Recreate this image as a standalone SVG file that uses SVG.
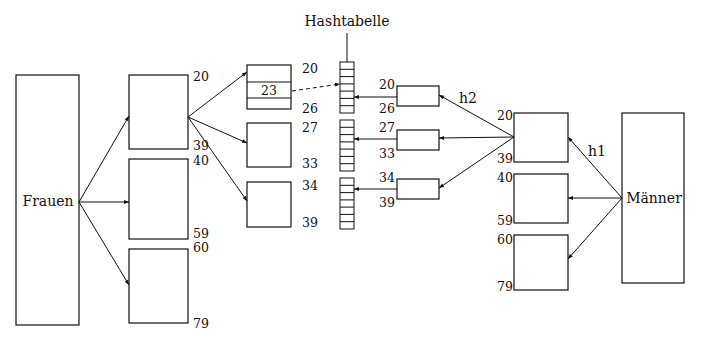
<svg xmlns="http://www.w3.org/2000/svg" width="706" height="346" viewBox="0 0 706 346">
<style>
  .box { fill: #fff; stroke: #111; stroke-width: 1.2; }
  .cell { fill: none; stroke: #111; stroke-width: 1; }
  .edge { fill: none; stroke: #111; stroke-width: 1; marker-end: url(#arr); }
  .lbl { font-family: "DejaVu Serif", "Liberation Serif", serif; font-size: 12.5px; fill: #111; }
  .big { font-family: "DejaVu Serif", "Liberation Serif", serif; font-size: 14px; fill: #111; }
</style>
<defs>
  <marker id="arr" viewBox="0 0 10 10" refX="10" refY="5" markerWidth="7" markerHeight="5" markerUnits="userSpaceOnUse" orient="auto">
    <path d="M0,1 L10,5 L0,9 z" fill="#111"/>
  </marker>
  <!-- one hash bucket column of seven cells -->
  <g id="bucket">
    <rect class="cell" x="0" y="0" width="14" height="51"/>
    <path class="cell" d="M0,7.3H14M0,14.6H14M0,21.9H14M0,29.1H14M0,36.4H14M0,43.7H14"/>
  </g>
</defs>

<!-- women -->
<g id="frauen">
  <rect class="box" x="16" y="75" width="63" height="250"/>
  <text class="big" x="48" y="206" text-anchor="middle">Frauen</text>
</g>
<g id="f20">
  <rect class="box" x="129" y="75" width="59" height="74"/>
  <text class="lbl" x="193" y="81">20</text>
  <text class="lbl" x="193" y="150">39</text>
</g>
<g id="f40">
  <rect class="box" x="129" y="159" width="59" height="80"/>
  <text class="lbl" x="193" y="165">40</text>
  <text class="lbl" x="193" y="238">59</text>
</g>
<g id="f60">
  <rect class="box" x="129" y="249" width="59" height="74"/>
  <text class="lbl" x="193" y="252">60</text>
  <text class="lbl" x="193" y="328">79</text>
</g>

<!-- partitions of 20..39 -->
<g id="p20">
  <rect class="box" x="247" y="65" width="44" height="44"/>
  <path class="cell" d="M247,82H291M247,98H291"/>
  <text class="lbl" x="269" y="95" text-anchor="middle">23</text>
  <text class="lbl" x="302" y="73">20</text>
  <text class="lbl" x="302" y="113">26</text>
</g>
<g id="p27">
  <rect class="box" x="247" y="123" width="44" height="44"/>
  <text class="lbl" x="302" y="132">27</text>
  <text class="lbl" x="302" y="168">33</text>
</g>
<g id="p34">
  <rect class="box" x="247" y="182" width="44" height="45"/>
  <text class="lbl" x="302" y="190">34</text>
  <text class="lbl" x="302" y="227">39</text>
</g>

<!-- hash table -->
<g id="hashtabelle">
  <text class="big" x="347" y="26" text-anchor="middle">Hashtabelle</text>
  <line class="cell" x1="347" y1="33" x2="347" y2="62"/>
  <use href="#bucket" x="340" y="62"/>
  <use href="#bucket" x="340" y="120"/>
  <use href="#bucket" x="340" y="178"/>
</g>

<!-- build-side partitions -->
<g id="h20">
  <rect class="box" x="397" y="86" width="42" height="20"/>
  <text class="lbl" x="387" y="89" text-anchor="middle">20</text>
  <text class="lbl" x="387" y="113" text-anchor="middle">26</text>
</g>
<g id="h27">
  <rect class="box" x="397" y="130" width="42" height="20"/>
  <text class="lbl" x="387" y="132" text-anchor="middle">27</text>
  <text class="lbl" x="387" y="158" text-anchor="middle">33</text>
</g>
<g id="h34">
  <rect class="box" x="397" y="179" width="42" height="20"/>
  <text class="lbl" x="387" y="182" text-anchor="middle">34</text>
  <text class="lbl" x="387" y="207" text-anchor="middle">39</text>
</g>

<!-- men -->
<g id="m20">
  <rect class="box" x="514" y="113" width="54" height="49"/>
  <text class="lbl" x="505" y="120" text-anchor="middle">20</text>
  <text class="lbl" x="505" y="163" text-anchor="middle">39</text>
</g>
<g id="m40">
  <rect class="box" x="514" y="174" width="54" height="49"/>
  <text class="lbl" x="505" y="182" text-anchor="middle">40</text>
  <text class="lbl" x="505" y="225" text-anchor="middle">59</text>
</g>
<g id="m60">
  <rect class="box" x="514" y="235" width="54" height="55"/>
  <text class="lbl" x="505" y="244" text-anchor="middle">60</text>
  <text class="lbl" x="505" y="291" text-anchor="middle">79</text>
</g>
<g id="maenner">
  <rect class="box" x="622" y="113" width="62" height="170"/>
  <text class="big" x="654" y="203" text-anchor="middle">Männer</text>
</g>

<!-- connectors -->
<g id="connectors">
  <line class="edge" x1="79" y1="202" x2="129" y2="116"/>
  <line class="edge" x1="79" y1="202" x2="129" y2="202"/>
  <line class="edge" x1="79" y1="202" x2="129" y2="285"/>

  <line class="edge" x1="188" y1="117" x2="247" y2="72"/>
  <line class="edge" x1="188" y1="117" x2="247" y2="143"/>
  <line class="edge" x1="188" y1="117" x2="247" y2="201"/>

  <line class="edge" x1="292" y1="91" x2="340" y2="84" stroke-dasharray="4,3"/>

  <line class="edge" x1="397" y1="97" x2="354" y2="97"/>
  <line class="edge" x1="397" y1="139" x2="354" y2="139"/>
  <line class="edge" x1="397" y1="189" x2="354" y2="189"/>

  <line class="edge" x1="514" y1="137" x2="439" y2="95"/>
  <line class="edge" x1="514" y1="137" x2="439" y2="138"/>
  <line class="edge" x1="514" y1="137" x2="439" y2="188"/>
  <text class="big" x="468" y="103" text-anchor="middle">h2</text>

  <line class="edge" x1="622" y1="198" x2="568" y2="137"/>
  <line class="edge" x1="622" y1="198" x2="568" y2="198"/>
  <line class="edge" x1="622" y1="198" x2="568" y2="259"/>
  <text class="big" x="597" y="156" text-anchor="middle">h1</text>
</g>
</svg>
